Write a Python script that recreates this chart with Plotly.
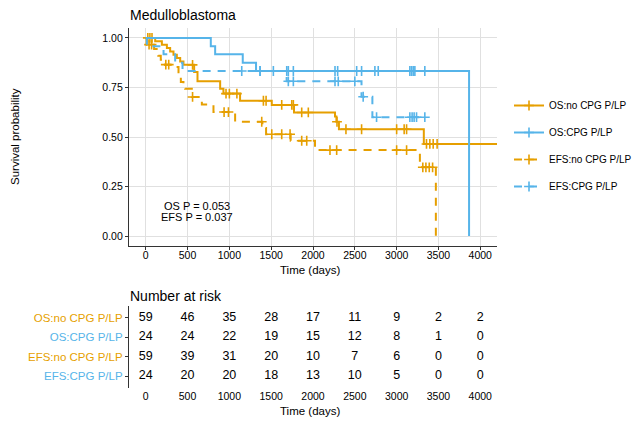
import plotly.graph_objects as go

# ---------------- data ----------------
ORANGE = "#E69F00"
BLUE = "#56B4E9"

# Kaplan-Meier step curves (time in days, survival probability)
os_nocpg_t = [0, 113, 193, 253, 292, 332, 372, 412, 451, 579, 619, 890, 929, 1128, 1507, 1773, 2263, 2280, 2310, 3325, 4200]
os_nocpg_s = [1.0, 0.983, 0.966, 0.949, 0.932, 0.915, 0.898, 0.881, 0.864, 0.828, 0.781, 0.744, 0.719, 0.683, 0.662, 0.624, 0.603, 0.577, 0.539, 0.465, 0.465]
os_nocpg_cens = [25, 50, 75, 560, 960, 1000, 1090, 1407, 1439, 1626, 1746, 1765, 1865, 1944, 2287, 2394, 2581, 3000, 3090, 3119, 3357, 3397, 3437, 3484]

os_cpg_t = [0, 778, 830, 1160, 1319, 3866]
os_cpg_s = [1.0, 0.958, 0.917, 0.875, 0.833, 0.0]
os_cpg_cens = [1367, 1526, 1686, 1705, 1765, 2263, 2295, 2522, 2581, 2740, 2780, 3158, 3178, 3198, 3218, 3337]

efs_nocpg_t = [0, 10, 100, 150, 180, 230, 300, 392, 420, 451, 471, 551, 671, 810, 1069, 1395, 1439, 1733, 2024, 3278, 3469]
efs_nocpg_s = [1.0, 0.966, 0.944, 0.91, 0.89, 0.865, 0.853, 0.811, 0.777, 0.760, 0.744, 0.702, 0.664, 0.626, 0.577, 0.545, 0.514, 0.481, 0.434, 0.347, 0.0]
efs_nocpg_cens = [40, 70, 240, 275, 560, 937, 989, 1387, 1507, 1626, 1726, 1865, 1925, 2203, 2283, 3000, 3119, 3313, 3350, 3390, 3430]

efs_cpg_t = [0, 14, 213, 352, 440, 1685, 2580, 2710, 3337]
efs_cpg_s = [1.0, 0.958, 0.917, 0.875, 0.833, 0.781, 0.703, 0.60, 0.60]
efs_cpg_cens = [1148, 1367, 1705, 1765, 2263, 2302, 2500, 2600, 2760, 3158, 3185, 3209, 3238, 3337]

# number at risk table
risk_times = [0, 500, 1000, 1500, 2000, 2500, 3000, 3500, 4000]
risk_os_nocpg = [59, 46, 35, 28, 17, 11, 9, 2, 2]
risk_os_cpg = [24, 24, 22, 19, 15, 12, 8, 1, 0]
risk_efs_nocpg = [59, 39, 31, 20, 10, 7, 6, 0, 0]
risk_efs_cpg = [24, 20, 20, 18, 13, 10, 5, 0, 0]

series_names = ["OS:no CPG P/LP", "OS:CPG P/LP", "EFS:no CPG P/LP", "EFS:CPG P/LP"]
x_ticks = [0, 500, 1000, 1500, 2000, 2500, 3000, 3500, 4000]
y_ticks = [0, 0.25, 0.5, 0.75, 1.0]
y_ticklabels = ["0.00", "0.25", "0.50", "0.75", "1.00"]
p_texts = ["OS P = 0.053", "EFS P = 0.037"]

# ---------------- figure ----------------
W, H = 633, 422
FONT = "Liberation Sans, Arial, sans-serif"


def step_at(t, times, levels):
    val = levels[0]
    for ti, lv in zip(times, levels):
        if ti <= t:
            val = lv
        else:
            break
    return val


curves = [
    (series_names[0], os_nocpg_t, os_nocpg_s, os_nocpg_cens, ORANGE, "solid"),
    (series_names[1], os_cpg_t, os_cpg_s, os_cpg_cens, BLUE, "solid"),
    (series_names[2], efs_nocpg_t, efs_nocpg_s, efs_nocpg_cens, ORANGE, "8px,7px"),
    (series_names[3], efs_cpg_t, efs_cpg_s, efs_cpg_cens, BLUE, "8px,7px"),
]

fig = go.Figure()
for i, (name, t, s, cens, col, dash) in enumerate(curves):
    fig.add_trace(go.Scatter(
        x=t, y=s, mode="lines", line=dict(color=col, width=2, dash=dash, shape="hv"),
        showlegend=False, hoverinfo="skip", xaxis="x", yaxis="y"))
    fig.add_trace(go.Scatter(
        x=cens, y=[step_at(c, t, s) for c in cens], mode="markers",
        marker=dict(symbol="cross-thin", size=7, line=dict(color=col, width=1.6)),
        showlegend=False, hoverinfo="skip", xaxis="x", yaxis="y"))
    # legend entry
    fig.add_trace(go.Scatter(
        x=[None], y=[None], mode="lines+markers", name=name, legendgroup=name,
        line=dict(color=col, width=2, dash=dash),
        marker=dict(symbol="cross-thin", size=7, line=dict(color=col, width=1.6)),
        xaxis="x", yaxis="y"))

# risk table
risk_rows = [risk_os_nocpg, risk_os_cpg, risk_efs_nocpg, risk_efs_cpg]
row_y = [4, 3, 2, 1]
for vals, yy in zip(risk_rows, row_y):
    fig.add_trace(go.Scatter(
        x=risk_times, y=[yy] * len(risk_times), mode="text",
        text=[str(v) for v in vals], textfont=dict(family=FONT, size=12.5, color="black"),
        showlegend=False, hoverinfo="skip", xaxis="x2", yaxis="y2"))

xd = [129 / W, 497 / W]
AX = "#333333"
GRID = "#e0e0e0"

row_colors = [ORANGE, BLUE, ORANGE, BLUE]
fig.update_layout(
    width=W, height=H, margin=dict(l=0, r=0, t=0, b=0, autoexpand=False),
    paper_bgcolor="white", plot_bgcolor="white",
    font=dict(family=FONT, color="black"),
    xaxis=dict(domain=xd, range=[-200, 4200], tickvals=x_ticks, ticktext=[str(v) for v in x_ticks],
               showgrid=True, gridcolor=GRID, gridwidth=1, zeroline=False,
               showline=True, linecolor=AX, linewidth=1.2, ticks="outside", ticklen=3,
               tickcolor=AX, tickfont=dict(size=10.5, color="black"), anchor="y",
               ticklabelstandoff=-4, automargin=False),
    yaxis=dict(domain=[1 - 246 / H, 1 - 28 / H], range=[-0.05, 1.05], tickvals=y_ticks,
               ticktext=y_ticklabels, showgrid=True, gridcolor=GRID, gridwidth=1, zeroline=False,
               showline=True, linecolor=AX, linewidth=1.2, ticks="outside", ticklen=3,
               tickcolor=AX, tickfont=dict(size=10.5, color="black"), anchor="x", automargin=False),
    xaxis2=dict(domain=xd, range=[-200, 4200], tickvals=x_ticks, ticktext=[str(v) for v in x_ticks],
                showgrid=False, zeroline=False, showline=False, ticks="",
                tickfont=dict(size=10.5, color="black"), anchor="y2", automargin=False),
    yaxis2=dict(domain=[1 - 388 / H, 1 - 306 / H], range=[0.4, 4.6], tickvals=row_y,
                ticktext=[f"<span style='color:{c}'>{n}</span>" for c, n in zip(row_colors, series_names)],
                showgrid=False, zeroline=False, showline=True, linecolor=AX, linewidth=1.2,
                ticks="outside", ticklen=3, tickcolor=AX,
                tickfont=dict(size=11.5), anchor="x2", automargin=False),
    legend=dict(x=509 / W, xanchor="left", y=1 - 91 / H, yanchor="top",
                font=dict(size=10, color="black"), traceorder="grouped", tracegroupgap=8,
                bgcolor="rgba(0,0,0,0)"),
)

ann = [
    dict(text="Medulloblastoma", x=128 / W, y=1 - 15 / H, xref="paper", yref="paper",
         xanchor="left", yanchor="middle", showarrow=False, font=dict(size=14)),
    dict(text="Number at risk", x=128 / W, y=1 - 296 / H, xref="paper", yref="paper",
         xanchor="left", yanchor="middle", showarrow=False, font=dict(size=14)),
    dict(text="Survival probability", x=15 / W, y=1 - 137 / H, xref="paper", yref="paper",
         xanchor="center", yanchor="middle", textangle=-90, showarrow=False, font=dict(size=11.5)),
    dict(text="Time (days)", x=310 / W, y=1 - 270 / H, xref="paper", yref="paper",
         xanchor="center", yanchor="middle", showarrow=False, font=dict(size=11.5)),
    dict(text="Time (days)", x=310 / W, y=1 - 411 / H, xref="paper", yref="paper",
         xanchor="center", yanchor="middle", showarrow=False, font=dict(size=11.5)),
    dict(text=p_texts[0], x=197 / W, y=1 - 206 / H, xref="paper", yref="paper",
         xanchor="center", yanchor="middle", showarrow=False, font=dict(size=11)),
    dict(text=p_texts[1], x=197 / W, y=1 - 217 / H, xref="paper", yref="paper",
         xanchor="center", yanchor="middle", showarrow=False, font=dict(size=11)),
]
fig.update_layout(annotations=ann)

fig.write_html("out.html", config={"displayModeBar": False},
               post_script="document.body.style.margin='0';document.body.style.overflow='hidden';")
